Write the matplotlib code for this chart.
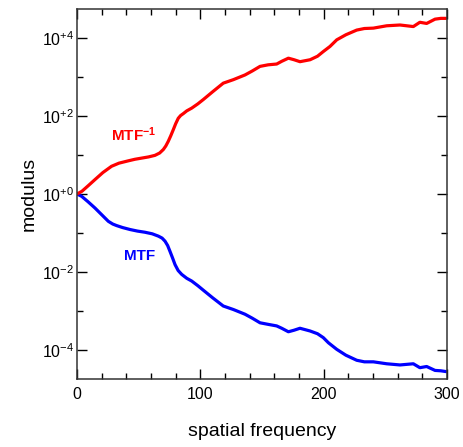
import matplotlib
matplotlib.use("Agg")
import matplotlib.pyplot as plt
from matplotlib.ticker import FixedLocator, NullFormatter

plt.rcParams['font.family'] = ['Liberation Sans', 'DejaVu Sans']
plt.rcParams['mathtext.fontset'] = 'custom'
plt.rcParams['mathtext.rm'] = 'Liberation Sans'
plt.rcParams['mathtext.it'] = 'Liberation Sans'
plt.rcParams['mathtext.bf'] = 'Liberation Sans:bold'

# spatial frequency and log10 modulus
mtf_x = [0, 3.8, 9, 14.6, 20, 25.4, 29, 32.2, 37, 43, 49, 55.1, 61, 66, 69,
         71.4, 73.5, 75.4, 77.5, 79.5, 82, 84.9, 89, 93, 98, 103, 110,
         118.6, 126.8, 136.2, 142, 148.4, 155, 161.9, 166, 171.4, 176, 180.8,
         189, 195, 199.7, 203.8, 210.6, 218, 226.8, 233, 240.3, 251.1, 261.9,
         272.7, 278, 283.5, 290.3, 295, 299.2]
mtf_log = [0, -0.06, -0.2, -0.36, -0.53, -0.70, -0.77, -0.81, -0.86, -0.91,
           -0.95, -0.98, -1.02, -1.08, -1.13, -1.21, -1.32, -1.47, -1.64,
           -1.81, -1.96, -2.06, -2.16, -2.23, -2.35, -2.48, -2.66,
           -2.87, -2.96, -3.08, -3.18, -3.30, -3.34, -3.38, -3.44, -3.53,
           -3.49, -3.44, -3.51, -3.58, -3.68, -3.81, -3.98, -4.13, -4.26,
           -4.30, -4.30, -4.35, -4.38, -4.35, -4.45, -4.42, -4.52, -4.53, -4.55]

inv_x = [0, 4, 9, 14.6, 21, 28, 34, 41.6, 47, 52.5, 58, 63.2, 67, 70, 72,
         74, 76, 78.1, 80, 82.1, 84, 86.2, 89, 93, 98, 102.4, 110, 118.6,
         126.8, 136.2, 142, 148.4, 155, 161.9, 166, 171.4, 176, 180.8, 189,
         195, 199.7, 205.1, 210.6, 218, 226.8, 233, 240.3, 251.1, 261.9,
         272.7, 278, 283.5, 290.3, 295, 299.2]
inv_log = [0, 0.07, 0.21, 0.37, 0.55, 0.71, 0.79, 0.85, 0.89, 0.92, 0.95,
           0.99, 1.05, 1.14, 1.23, 1.35, 1.49, 1.65, 1.80, 1.94, 2.01, 2.06,
           2.13, 2.2, 2.31, 2.42, 2.62, 2.84, 2.93, 3.05, 3.15, 3.27, 3.31,
           3.33, 3.40, 3.48, 3.44, 3.39, 3.44, 3.53, 3.65, 3.78, 3.95, 4.08,
           4.20, 4.24, 4.25, 4.31, 4.33, 4.29, 4.40, 4.37, 4.48, 4.50, 4.50]

y_major = [-4, -2, 0, 2, 4]
y_labels = [r'$10^{-4}$', r'$10^{-2}$', r'$10^{+0}$', r'$10^{+2}$', r'$10^{+4}$']
x_major = [0, 100, 200, 300]

fig = plt.figure(figsize=(4.64, 4.47), dpi=100)
ax = fig.add_axes([77/464, 1-379/447, 370/464, 370/447])

ax.plot(mtf_x, [10**v for v in mtf_log], color='#0000ff', lw=2.3,
        solid_capstyle='round', solid_joinstyle='round')
ax.plot(inv_x, [10**v for v in inv_log], color='#ff0000', lw=2.3,
        solid_capstyle='round', solid_joinstyle='round')

ax.set_yscale('log')
ax.set_xlim(0, 300)
ax.set_ylim(10**-4.74, 10**4.74)

ax.yaxis.set_major_locator(FixedLocator([10**v for v in y_major]))
ax.set_yticklabels(y_labels)
ax.yaxis.set_minor_locator(FixedLocator([10**v for v in [-3, -1, 1, 3]]))
ax.yaxis.set_minor_formatter(NullFormatter())
ax.xaxis.set_major_locator(FixedLocator(x_major))
ax.xaxis.set_minor_locator(FixedLocator(list(range(20, 300, 20))))

ax.tick_params(which='both', direction='in', top=True, right=True,
               labelsize=11.5, colors='black')
ax.tick_params(which='major', length=7, width=1)
ax.tick_params(which='minor', length=4.5, width=1)
ax.tick_params(axis='y', pad=2)
ax.tick_params(axis='x', pad=6)
for s in ax.spines.values():
    s.set_linewidth(1.1)
    s.set_color('#333333')

ax.set_xlabel('spatial frequency', fontsize=14, labelpad=15)
ax.set_ylabel('modulus', fontsize=14, labelpad=3)

ax.text(46, 10**1.52, r'MTF$^{\mathbf{-1}}$', color='#ff0000', fontsize=11,
        fontweight='bold', ha='center', va='center')
ax.text(51, 10**-1.6, 'MTF', color='#0000ff', fontsize=11,
        fontweight='bold', ha='center', va='center')

fig.savefig('out.png', dpi=100)
